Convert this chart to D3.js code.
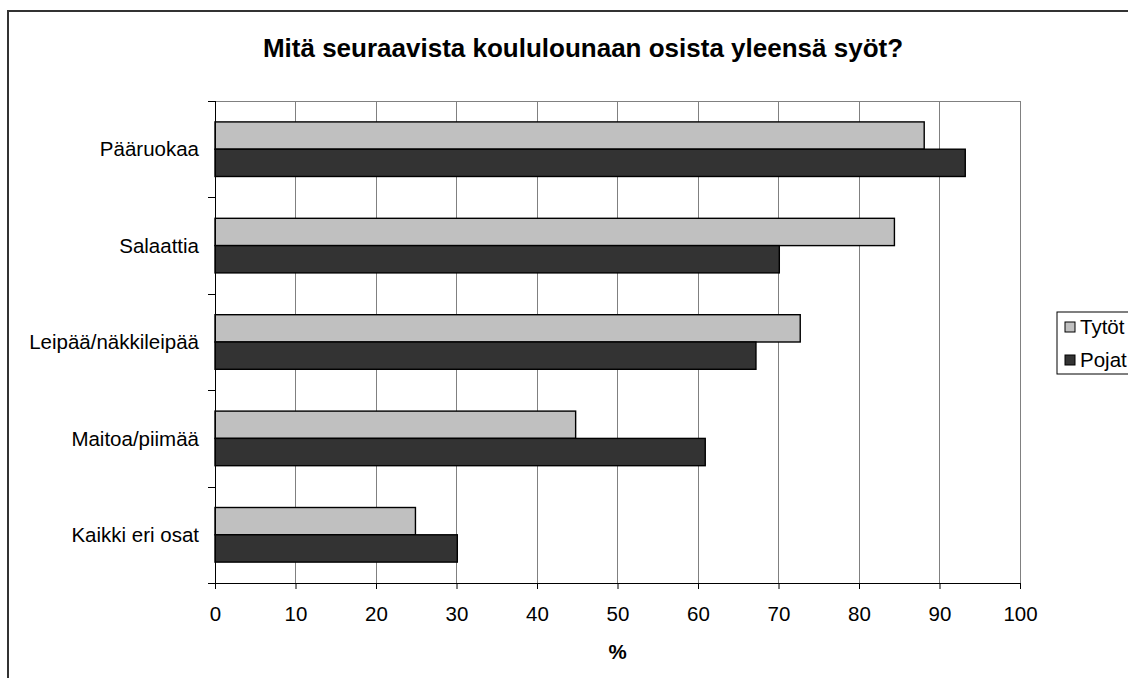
<!DOCTYPE html>
<html>
<head>
<meta charset="utf-8">
<script src="https://cdn.jsdelivr.net/npm/d3@7"></script>
<style>
  html, body { margin: 0; padding: 0; background: #fff; }
  svg { display: block; font-family: "Liberation Sans", Arial, sans-serif; }
</style>
</head>
<body>
<svg id="chart" width="1128" height="678"></svg>
<script>
const categories = ["Pääruokaa", "Salaattia", "Leipää/näkkileipää", "Maitoa/piimää", "Kaikki eri osat"];
const seriesNames = ["Tytöt", "Pojat"];
const tytot = [88.1, 84.4, 72.7, 44.8, 24.9];
const pojat = [93.2, 70.1, 67.2, 60.9, 30.1];
const xTicks = [0, 10, 20, 30, 40, 50, 60, 70, 80, 90, 100];
const titleText = "Mitä seuraavista koululounaan osista yleensä syöt?";
const xLabel = "%";

const colors = ["#c0c0c0", "#333333"];
const svg = d3.select("#chart");

// outer chart border
svg.append("rect").attr("x", 8).attr("y", 11).attr("width", 1200).attr("height", 800)
  .attr("fill", "#fff").attr("stroke", "#333").attr("stroke-width", 2);

const m = { left: 215, right: 1020, top: 101, bottom: 583 };
const x = d3.scaleLinear().domain([0, 100]).range([m.left, m.right]);
const y = d3.scaleBand().domain(categories).range([m.top, m.bottom]);
const inner = d3.scaleBand().domain(seriesNames).range([0, y.bandwidth()]).paddingOuter(0.766);

// gridlines
svg.append("g").selectAll("line").data(xTicks.slice(1)).join("line")
  .attr("x1", d => x(d)).attr("x2", d => x(d))
  .attr("y1", m.top).attr("y2", m.bottom)
  .attr("stroke", "#808080").attr("stroke-width", 1).attr("shape-rendering", "crispEdges");

// top border of plot
svg.append("line").attr("x1", m.left).attr("x2", m.right).attr("y1", m.top).attr("y2", m.top)
  .attr("stroke", "#808080").attr("shape-rendering", "crispEdges");

// bars
const data = categories.map((c, i) => ({ c, vals: [tytot[i], pojat[i]] }));
const groups = svg.append("g").selectAll("g").data(data).join("g")
  .attr("transform", d => `translate(0,${y(d.c)})`);
groups.selectAll("rect").data(d => d.vals.map((v, j) => ({ v, s: seriesNames[j], j }))).join("rect")
  .attr("x", x(0)).attr("y", d => inner(d.s))
  .attr("width", d => x(d.v) - x(0)).attr("height", inner.bandwidth())
  .attr("fill", d => colors[d.j]).attr("stroke", "#000").attr("stroke-width", 1.4);

// x axis
const xAxis = svg.append("g").attr("transform", `translate(0,${m.bottom})`)
  .call(d3.axisBottom(x).tickValues(xTicks).tickSize(6).tickPadding(17));
xAxis.select(".domain").attr("stroke", "#000").attr("d", `M${m.left - 7},0.5H${m.right}`);
xAxis.selectAll("text").attr("font-size", 20.5).attr("fill", "#000")
  .attr("font-family", "Liberation Sans, Arial, sans-serif");
xAxis.selectAll("line").attr("stroke", "#000");

// y axis
const yAxis = svg.append("g").attr("transform", `translate(${m.left},0)`);
yAxis.append("line").attr("x1", 0.5).attr("x2", 0.5).attr("y1", m.top).attr("y2", m.bottom + 6).attr("stroke", "#000");
const yBounds = categories.map(c => y(c)).concat([m.bottom]);
yAxis.selectAll("line.tk").data(yBounds).join("line").attr("class", "tk")
  .attr("x1", -7).attr("x2", 0).attr("y1", d => Math.round(d) + 0.5).attr("y2", d => Math.round(d) + 0.5)
  .attr("stroke", "#000");
yAxis.selectAll("text").data(categories).join("text")
  .attr("x", -16).attr("y", d => y(d) + y.bandwidth() / 2)
  .attr("dy", "0.35em").attr("text-anchor", "end").attr("font-size", 20.5).attr("fill", "#000")
  .text(d => d);

// title
svg.append("text").attr("x", 583).attr("y", 57).attr("text-anchor", "middle")
  .attr("font-size", 26).attr("font-weight", "bold").text(titleText);

// x label
svg.append("text").attr("x", x(50)).attr("y", 659).attr("text-anchor", "middle")
  .attr("font-size", 20.5).attr("font-weight", "bold").text(xLabel);

// legend
const lg = svg.append("g");
lg.append("rect").attr("x", 1057).attr("y", 312).attr("width", 120).attr("height", 62)
  .attr("fill", "#fff").attr("stroke", "#000").attr("stroke-width", 1);
seriesNames.forEach((s, i) => {
  const ly = 327 + i * 33;
  lg.append("rect").attr("x", 1065).attr("y", ly - 5).attr("width", 10).attr("height", 10)
    .attr("fill", colors[i]).attr("stroke", "#000").attr("stroke-width", 1);
  lg.append("text").attr("x", 1080).attr("y", ly).attr("dy", "0.35em")
    .attr("font-size", 20.5).attr("fill", "#000").text(s);
});
</script>
</body>
</html>
